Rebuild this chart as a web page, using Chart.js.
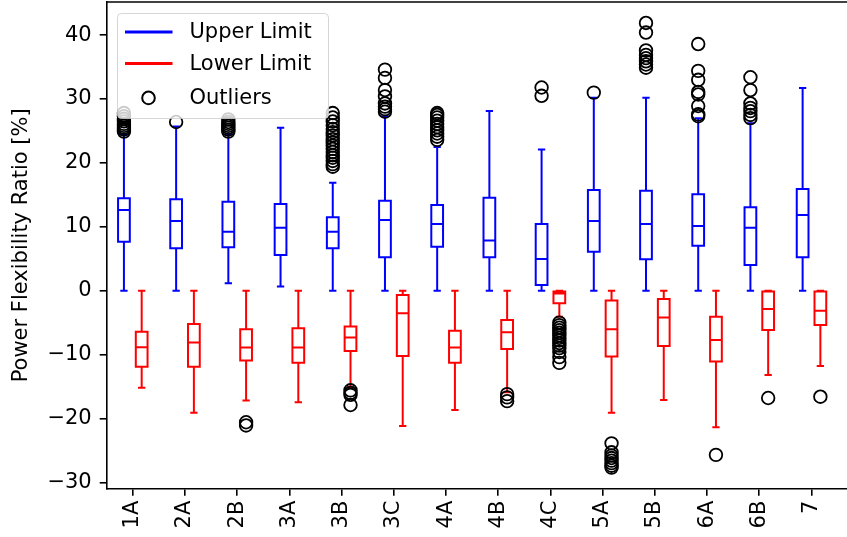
<!DOCTYPE html>
<html>
<head>
<meta charset="utf-8">
<script src="https://cdn.jsdelivr.net/npm/chart.js@4.4.0/dist/chart.umd.min.js"></script>
<style>
  html, body { margin: 0; padding: 0; background: #fff; }
</style>
</head>
<body>
<canvas id="myChart" width="847" height="537"></canvas>
<script>
const categories = ['1A', '2A', '2B', '3A', '3B', '3C', '4A', '4B', '4C', '5A', '5B', '6A', '6B', '7'];
const seriesNames = ['Upper Limit', 'Lower Limit', 'Outliers'];
const yTicks = [-30, -20, -10, 0, 10, 20, 30, 40];

// upper limit boxes
const upperLow  = [0, 0, 1.15, 0.63, 0, 0, 0, 0, 0, 0, 0, 0, 0, 0];
const upperQ1   = [7.67, 6.63, 6.79, 5.59, 6.63, 5.22, 6.89, 5.22, 0.89, 6.1, 4.91, 7.04, 4.02, 5.22];
const upperMed  = [12.63, 10.9, 9.23, 9.86, 9.23, 11.06, 10.44, 7.83, 4.96, 10.9, 10.44, 10.13, 9.86, 11.85];
const upperQ3   = [14.46, 14.3, 13.93, 13.57, 11.48, 14.08, 13.4, 14.56, 10.44, 15.76, 15.65, 15.09, 13.05, 15.92];
const upperHigh = [24.5, 25.7, 24.5, 25.5, 16.9, 27.3, 22.5, 28.1, 22.1, 30.2, 30.2, 27.0, 26.2, 31.7];
const upperOutliers = [
  [24.9, 25.2, 25.5, 25.8, 26.1, 26.5, 26.9, 27.3, 27.8],
  [26.4],
  [24.9, 25.2, 25.5, 25.8, 26.1, 26.4, 26.8],
  [],
  [19.4, 19.8, 20.3, 20.8, 21.2, 21.7, 22.2, 22.7, 23.2, 23.7, 24.3, 24.8, 25.3, 25.9, 26.5, 27.1, 27.8],
  [28.0, 28.4, 28.8, 29.3, 30.4, 31.4, 33.3, 34.6],
  [23.6, 24.1, 24.6, 25.1, 25.6, 26.1, 26.6, 27.1, 27.5, 27.8],
  [],
  [30.5, 31.8],
  [31.0],
  [34.9, 35.4, 35.9, 36.4, 36.9, 37.6, 40.4, 41.9],
  [27.3, 27.6, 28.9, 30.7, 31.1, 33.0, 34.4, 38.6],
  [27.0, 27.5, 28.1, 28.6, 29.3, 31.4, 33.4],
  []
];

// lower limit boxes
const lowerLow  = [-15.2, -19.1, -17.2, -17.47, -15.1, -21.17, -18.67, -15.9, -4.07, -19.1, -17.1, -21.4, -13.2, -11.78];
const lowerQ1   = [-11.9, -11.9, -10.95, -11.27, -9.44, -10.22, -11.27, -9.12, -1.98, -10.3, -8.65, -11.1, -6.15, -5.37];
const lowerMed  = [-8.86, -8.13, -8.91, -8.91, -7.35, -3.54, -8.91, -6.51, -0.45, -6.05, -4.22, -7.72, -2.86, -3.13];
const lowerQ3   = [-6.42, -5.21, -6.05, -5.89, -5.63, -0.67, -6.26, -4.59, -0.15, -1.56, -1.3, -4.07, -0.15, -0.15];
const lowerHigh = [0, 0, 0, 0, 0, 0, 0, 0, 0, 0, 0, 0, 0, 0];
const lowerOutliers = [
  [],
  [],
  [-20.6, -21.1],
  [],
  [-15.6, -16.0, -16.3, -17.9],
  [],
  [],
  [-16.2, -16.7, -17.3],
  [-5.0, -5.4, -5.8, -6.2, -6.6, -7.0, -7.4, -7.8, -8.2, -8.6, -9.0, -9.6, -10.4, -11.3],
  [-23.9, -25.3, -25.8, -26.2, -26.6, -27.0, -27.4, -27.7],
  [],
  [-25.7],
  [-16.8],
  [-16.6]
];

const FONT = 'DejaVu Sans';
const FS = 21;
const BOX_W = 0.225;
const CAP_W = 0.14;

const boxSeries = [
  { color: '#0000ff', offset: -0.17, low: upperLow, q1: upperQ1, med: upperMed, q3: upperQ3, high: upperHigh },
  { color: '#ff0000', offset: 0.17, low: lowerLow, q1: lowerQ1, med: lowerMed, q3: lowerQ3, high: lowerHigh }
];

function outlierPoints(lists, offset) {
  const pts = [];
  lists.forEach((vals, i) => vals.forEach(v => pts.push({ x: i + 1 + offset, y: v })));
  return pts;
}

const boxPlugin = {
  id: 'boxes',
  beforeDatasetsDraw(chart) {
    const { ctx, scales: { x, y } } = chart;
    ctx.save();
    ctx.lineWidth = 2;
    boxSeries.forEach(s => {
      ctx.strokeStyle = s.color;
      categories.forEach((c, i) => {
        const pos = i + 1 + s.offset;
        const xc = x.getPixelForValue(pos);
        const xl = x.getPixelForValue(pos - BOX_W / 2);
        const xr = x.getPixelForValue(pos + BOX_W / 2);
        const cl = x.getPixelForValue(pos - CAP_W / 2);
        const cr = x.getPixelForValue(pos + CAP_W / 2);
        const yLow = y.getPixelForValue(s.low[i]);
        const yQ1 = y.getPixelForValue(s.q1[i]);
        const yMed = y.getPixelForValue(s.med[i]);
        const yQ3 = y.getPixelForValue(s.q3[i]);
        const yHigh = y.getPixelForValue(s.high[i]);
        ctx.beginPath();
        ctx.moveTo(xc, yQ1); ctx.lineTo(xc, yLow);
        ctx.moveTo(xc, yQ3); ctx.lineTo(xc, yHigh);
        ctx.moveTo(cl, yLow); ctx.lineTo(cr, yLow);
        ctx.moveTo(cl, yHigh); ctx.lineTo(cr, yHigh);
        ctx.stroke();
        ctx.beginPath();
        ctx.rect(xl, yQ3, xr - xl, yQ1 - yQ3);
        ctx.moveTo(xl, yMed); ctx.lineTo(xr, yMed);
        ctx.stroke();
      });
    });
    ctx.restore();
  }
};

// top spine + matplotlib style legend
const framePlugin = {
  id: 'frame',
  afterDraw(chart) {
    const { ctx, chartArea: a } = chart;
    ctx.save();
    ctx.strokeStyle = '#000';
    ctx.lineWidth = 1.6;
    ctx.beginPath();
    ctx.moveTo(a.left, a.top);
    ctx.lineTo(a.right, a.top);
    ctx.stroke();

    const lx = 117.5, ly = 13.5, lw = 211, lh = 105, r = 4;
    ctx.beginPath();
    ctx.roundRect(lx, ly, lw, lh, r);
    ctx.fillStyle = 'rgba(255,255,255,0.8)';
    ctx.fill();
    ctx.strokeStyle = 'rgba(204,204,204,0.8)';
    ctx.lineWidth = 1;
    ctx.stroke();

    const rows = [18.4, 50, 84.4];
    ctx.font = FS + 'px "' + FONT + '"';
    ctx.textBaseline = 'middle';
    ctx.fillStyle = '#000';
    seriesNames.forEach((name, k) => {
      const yy = ly + rows[k];
      if (k < 2) {
        ctx.strokeStyle = boxSeries[k].color;
        ctx.lineWidth = 3;
        ctx.beginPath();
        ctx.moveTo(lx + 7.5, yy);
        ctx.lineTo(lx + 55, yy);
        ctx.stroke();
      } else {
        ctx.strokeStyle = '#000';
        ctx.lineWidth = 2;
        ctx.beginPath();
        ctx.arc(lx + 31, yy, 6.3, 0, Math.PI * 2);
        ctx.stroke();
      }
      ctx.fillText(name, lx + 72, yy + 1);
    });
    ctx.restore();
  }
};

const outlierStyle = {
  type: 'scatter',
  showLine: false,
  pointRadius: 6.3,
  pointHoverRadius: 6.3,
  pointBorderWidth: 1.8,
  pointBorderColor: '#000',
  pointBackgroundColor: 'rgba(0,0,0,0)'
};

Chart.defaults.font.family = FONT;
Chart.defaults.font.size = FS;
Chart.defaults.color = '#000';

new Chart(document.getElementById('myChart').getContext('2d'), {
  type: 'scatter',
  data: {
    datasets: [
      Object.assign({ label: 'Upper outliers', data: outlierPoints(upperOutliers, -0.17) }, outlierStyle),
      Object.assign({ label: 'Lower outliers', data: outlierPoints(lowerOutliers, 0.17) }, outlierStyle)
    ]
  },
  options: {
    responsive: false,
    animation: false,
    layout: { autoPadding: false, padding: { top: 2, left: 0, right: 0, bottom: 0 } },
    plugins: {
      legend: { display: false },
      tooltip: { enabled: false }
    },
    scales: {
      x: {
        type: 'linear',
        min: 0.5,
        max: 14.68,
        afterBuildTicks: axis => { axis.ticks = categories.map((c, i) => ({ value: i + 1 })); },
        ticks: {
          autoSkip: false,
          minRotation: 90,
          maxRotation: 90,
          padding: 5,
          callback: v => categories[Math.round(v) - 1]
        },
        grid: { drawOnChartArea: false, drawTicks: true, tickLength: 7, color: '#000', lineWidth: 1.6 },
        border: { display: true, color: '#000', width: 1.6 },
        afterFit: s => { s.height = 48.3; s.paddingLeft = 0; s.paddingRight = 0; }
      },
      y: {
        type: 'linear',
        min: -31,
        max: 45.18,
        afterBuildTicks: axis => { axis.ticks = yTicks.map(v => ({ value: v })); },
        ticks: {
          padding: 8,
          callback: v => (v < 0 ? '\u2212' + Math.abs(v) : String(v))
        },
        title: {
          display: true,
          text: 'Power Flexibility Ratio [%]',
          padding: { top: 9, bottom: 0 }
        },
        grid: { drawOnChartArea: false, drawTicks: true, tickLength: 7, color: '#000', lineWidth: 1.6 },
        border: { display: true, color: '#000', width: 1.6 },
        afterFit: s => { s.width = 106.7; s.paddingTop = 0; s.paddingBottom = 0; }
      }
    }
  },
  plugins: [boxPlugin, framePlugin]
});
</script>
</body>
</html>
